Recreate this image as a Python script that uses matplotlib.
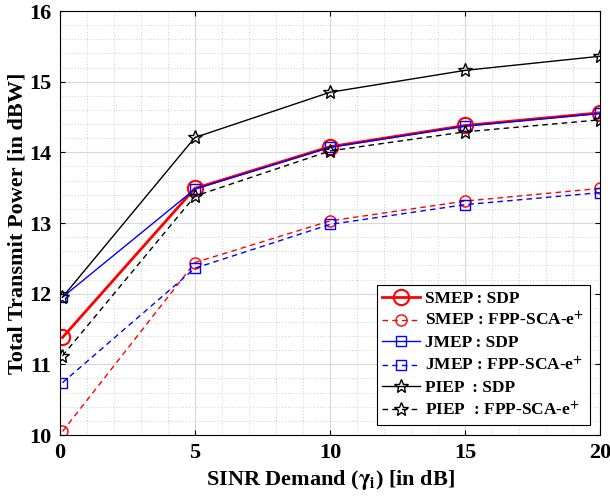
import matplotlib.pyplot as plt
from matplotlib.ticker import MultipleLocator

plt.rcParams['font.family'] = ['Liberation Serif', 'DejaVu Serif']
plt.rcParams['font.weight'] = 'bold'
plt.rcParams['mathtext.fontset'] = 'stix'

sinr = [0.1, 5, 10, 15, 20]

smep_sdp = [11.38, 13.49, 14.08, 14.38, 14.56]
smep_fpp = [10.05, 12.44, 13.03, 13.31, 13.49]
jmep_sdp = [11.95, 13.48, 14.07, 14.37, 14.55]
jmep_fpp = [10.74, 12.36, 12.98, 13.26, 13.43]
piep_sdp = [11.95, 14.21, 14.85, 15.16, 15.36]
piep_fpp = [11.12, 13.38, 14.02, 14.29, 14.46]

fig = plt.figure(figsize=(6.1, 5.0), dpi=100)
ax = fig.add_axes([0.098, 0.13, 0.886, 0.848])

dash = (0, (4, 3))
ax.plot(sinr, smep_sdp, color="red", lw=2, marker="o", ms=11, mfc="none", mew=1.5, label="SMEP : SDP")
ax.plot(sinr, smep_fpp, color="red", lw=1, ls=dash, marker="o", ms=8, mfc="none", label="SMEP : FPP-SCA-e$^\\mathbf{+}$")
ax.plot(sinr, jmep_sdp, color="blue", lw=1, marker="s", ms=7, mfc="none", label="JMEP : SDP")
ax.plot(sinr, jmep_fpp, color="blue", lw=1, ls=dash, marker="s", ms=7, mfc="none", label="JMEP : FPP-SCA-e$^\\mathbf{+}$")
ax.plot(sinr, piep_sdp, color="black", lw=1, marker="*", ms=10, mfc="none", label="PIEP  : SDP")
ax.plot(sinr, piep_fpp, color="black", lw=1, ls=dash, marker="*", ms=10, mfc="none", label="PIEP  : FPP-SCA-e$^\\mathbf{+}$")

ax.set_xlim(0, 20)
ax.set_ylim(10, 16)
ax.xaxis.set_major_locator(MultipleLocator(5))
ax.xaxis.set_minor_locator(MultipleLocator(1))
ax.yaxis.set_major_locator(MultipleLocator(1))
ax.yaxis.set_minor_locator(MultipleLocator(0.2))
ax.grid(True, which="major", color="#d8d8d8", lw=0.8)
ax.grid(True, which="minor", color="#cfcfcf", lw=0.7, ls=(0, (1, 2)))
ax.tick_params(which="both", direction="in", top=True, right=True)
ax.tick_params(which="minor", length=0)
ax.tick_params(labelsize=16, pad=6)
for lab in ax.get_xticklabels() + ax.get_yticklabels():
    lab.set_fontweight("bold")

ax.set_xlabel("SINR Demand ($\\mathbf{\\gamma_i}$) [in dB]", fontsize=16, fontweight="bold", labelpad=3)
ax.set_ylabel("Total Transmit Power [in dBW]", fontsize=16, fontweight="bold", labelpad=1)

leg = ax.legend(loc="lower right", fancybox=False, edgecolor="black",
                framealpha=1, handlelength=2.2, borderpad=0.3, labelspacing=0.3,
                handletextpad=0.3, borderaxespad=0.6, prop={"weight": "bold", "size": 12.5})
leg.get_frame().set_linewidth(0.8)

fig.savefig("out.png", dpi=100)
